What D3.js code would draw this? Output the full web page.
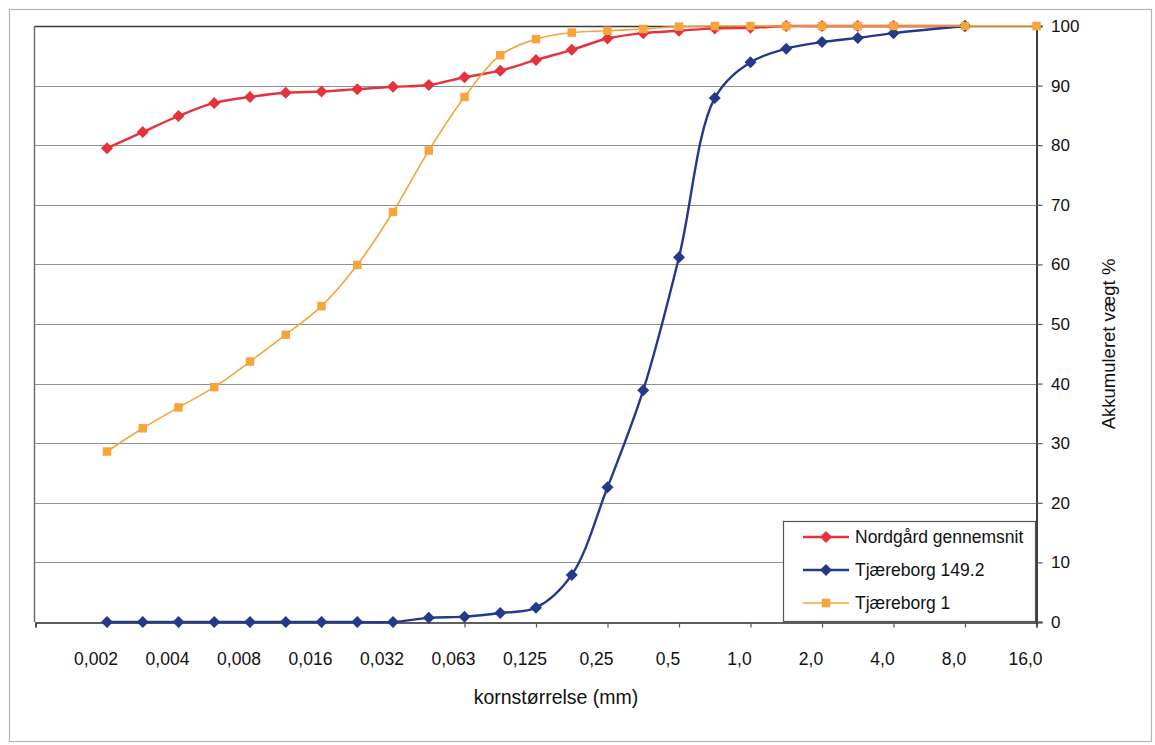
<!DOCTYPE html>
<html>
<head>
<meta charset="utf-8">
<script src="https://cdn.jsdelivr.net/npm/d3@7"></script>
<style>
  html, body { margin: 0; padding: 0; background: #fff; }
  svg text { font-family: "Liberation Sans", Arial, sans-serif; fill: #111; }
</style>
</head>
<body>
<svg id="chart" width="1155" height="745"></svg>
<script>
// Sieve sizes (mm), one category per half-step; only every other one is labelled
const sizes = ["0,002","0,0028","0,004","0,0056","0,008","0,011","0,016","0,022","0,032","0,045",
               "0,063","0,09","0,125","0,18","0,25","0,355","0,5","0,71","1,0","1,4",
               "2,0","2,8","4,0","5,6","8,0","11,2","16,0"];
const tickLabels = ["0,002","0,004","0,008","0,016","0,032","0,063","0,125","0,25","0,5","1,0","2,0","4,0","8,0","16,0"];
const yTicks = [0,10,20,30,40,50,60,70,80,90,100];

// Cumulative weight % per sieve size (null = not measured)
const nordgaard = [79.5,82.2,84.9,87.1,88.1,88.8,89.0,89.4,89.8,90.1,
                   91.4,92.5,94.3,96.0,97.9,98.8,99.2,99.6,99.7,100,
                   100,100,100,null,100,null,null];
const tjaereborg1492 = [0,0,0,0,0,0,0,0,0,0.7,
                        0.9,1.5,2.4,7.9,22.6,38.9,61.2,87.9,93.9,96.2,
                        97.3,98.0,98.8,null,100,null,null];
const tjaereborg1 = [28.6,32.5,36.0,39.4,43.7,48.2,53.0,59.9,68.8,79.1,
                     88.1,95.1,97.8,98.9,99.2,99.5,99.9,100,100,100,
                     100,100,100,null,100,null,100];

const seriesNames = ["Nordgård gennemsnit","Tjæreborg 149.2","Tjæreborg 1"];
const seriesColors = ["#e5323d","#24398a","#f7a43a"];
const seriesWidths = [2.4, 2.4, 1.6];
const seriesShapes = ["diamond","diamond","square"];
const seriesData = [nordgaard, tjaereborg1492, tjaereborg1];

const svg = d3.select("#chart");
const plot = {left: 35, right: 1036, top: 26, bottom: 622};

// Category index axis: two empty slots precede the first sieve size
const x = d3.scaleLinear().domain([-2, sizes.length - 1]).range([plot.left + 0.5, plot.right + 0.5]);
const y = d3.scaleLinear().domain([0, 100]).range([plot.bottom, plot.top]);

// outer chart frame
svg.append("rect").attr("x", 9.5).attr("y", 9.5).attr("width", 1142).attr("height", 732)
  .attr("fill", "#fff").attr("stroke", "#b5b5b5").attr("stroke-width", 1.2);

// horizontal gridlines
svg.append("g").selectAll("line").data(yTicks.filter(d => d > 0 && d < 100)).join("line")
  .attr("x1", plot.left).attr("x2", plot.right)
  .attr("y1", d => Math.round(y(d)) + 0.5).attr("y2", d => Math.round(y(d)) + 0.5)
  .attr("stroke", "#8f8f8f").attr("stroke-width", 1.2);

// plot area border: top and left
svg.append("line").attr("x1", plot.left).attr("x2", plot.right).attr("y1", plot.top + 0.5).attr("y2", plot.top + 0.5)
  .attr("stroke", "#3a3a3a").attr("stroke-width", 1.6);
svg.append("line").attr("x1", plot.left - 0.5).attr("x2", plot.left - 0.5).attr("y1", plot.top).attr("y2", plot.bottom)
  .attr("stroke", "#6a6a6a").attr("stroke-width", 1.4);

// bottom category axis
const xTickIdx = d3.range(-2, sizes.length, 2);
const xAxis = d3.axisBottom(x).tickValues(xTickIdx).tickSize(5).tickFormat(() => "");
const gx = svg.append("g").attr("transform", `translate(0,${plot.bottom + 0.5})`).call(xAxis);
gx.select(".domain").attr("stroke", "#2a2a2a").attr("stroke-width", 1.6);
gx.selectAll(".tick line").attr("stroke", "#555").attr("stroke-width", 1.2);

svg.append("g").selectAll("text").data(tickLabels).join("text")
  .attr("x", d => x(sizes.indexOf(d)) - 11)
  .attr("y", 665)
  .attr("text-anchor", "middle")
  .attr("font-size", 17.5)
  .text(d => d);

// right value axis
const yAxis = d3.axisRight(y).tickValues(yTicks).tickSize(6).tickFormat(() => "");
const gy = svg.append("g").attr("transform", `translate(${plot.right + 0.5},0)`).call(yAxis);
gy.select(".domain").attr("stroke", "#2a2a2a").attr("stroke-width", 1.8);
gy.selectAll(".tick line").attr("stroke", "#555").attr("stroke-width", 1.2);

svg.append("g").selectAll("text").data(yTicks).join("text")
  .attr("x", 1051)
  .attr("y", d => y(d) + 6)
  .attr("font-size", 17)
  .text(d => d);

// axis titles
svg.append("text").attr("x", 556).attr("y", 704).attr("text-anchor", "middle")
  .attr("font-size", 19.5).text("kornstørrelse (mm)");
svg.append("text").attr("transform", "translate(1115,344) rotate(-90)").attr("text-anchor", "middle")
  .attr("font-size", 18.5).text("Akkumuleret vægt %");

// Excel-style markers: equal-sided diamond and square
const diamond = {draw(ctx, size) {
  const r = Math.sqrt(size / 2);
  ctx.moveTo(0, -r); ctx.lineTo(r, 0); ctx.lineTo(0, r); ctx.lineTo(-r, 0); ctx.closePath();
}};
const symbolFor = s => s === "square" ? d3.symbol().type(d3.symbolSquare).size(72)
                                      : d3.symbol().type(diamond).size(72);
const line = d3.line().x(d => x(d.i)).y(d => y(d.v)).curve(d3.curveCatmullRom.alpha(0.5));

seriesData.forEach((vals, k) => {
  const pts = vals.map((v, i) => ({i, v})).filter(d => d.v !== null);
  const g = svg.append("g");
  g.append("path").datum(pts).attr("d", line)
    .attr("fill", "none").attr("stroke", seriesColors[k]).attr("stroke-width", seriesWidths[k])
    .attr("stroke-linejoin", "round");
  g.selectAll("path.m").data(pts).join("path").attr("class", "m")
    .attr("transform", d => `translate(${x(d.i)},${y(d.v)})`)
    .attr("d", symbolFor(seriesShapes[k]))
    .attr("fill", seriesColors[k]);
});

// legend
const lg = svg.append("g");
lg.append("rect").attr("x", 783.5).attr("y", 521.5).attr("width", 252).attr("height", 100)
  .attr("fill", "#fff").attr("stroke", "#555").attr("stroke-width", 1.2);
const rowsY = [537, 570, 603];
seriesNames.forEach((name, k) => {
  lg.append("line").attr("x1", 803).attr("x2", 849).attr("y1", rowsY[k]).attr("y2", rowsY[k])
    .attr("stroke", seriesColors[k]).attr("stroke-width", seriesWidths[k]);
  lg.append("path").attr("transform", `translate(826,${rowsY[k]})`)
    .attr("d", symbolFor(seriesShapes[k]))
    .attr("fill", seriesColors[k]);
  lg.append("text").attr("x", 855).attr("y", rowsY[k] + 6).attr("font-size", 17.5).text(name);
});
</script>
</body>
</html>
